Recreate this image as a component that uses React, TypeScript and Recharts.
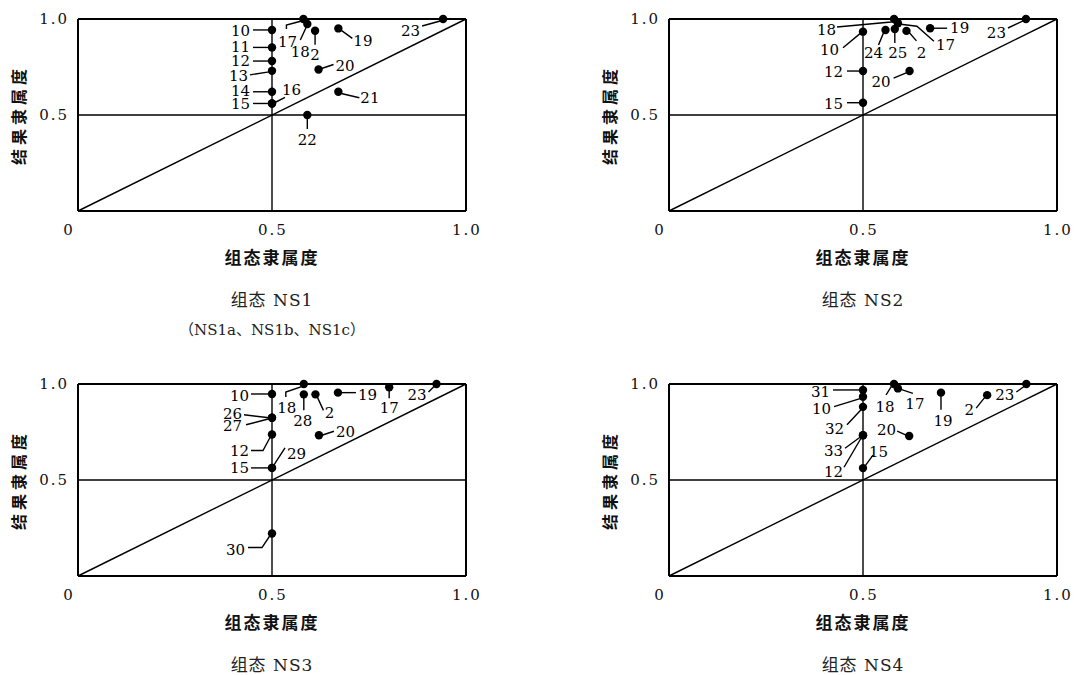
import React from 'react'
import { ScatterChart, Scatter, XAxis, YAxis, ReferenceLine } from 'recharts'

// 组态 NS1
const ns1Ids = ['10', '11', '12', '13', '14', '15', '16', '17', '18', '2', '19', '20', '21', '22', '23']
const ns1X = [0.5, 0.5, 0.5, 0.5, 0.5, 0.5, 0.5, 0.581, 0.591, 0.611, 0.671, 0.62, 0.671, 0.591, 0.941]
const ns1Y = [0.943, 0.852, 0.781, 0.73, 0.621, 0.56, 0.56, 1.0, 0.974, 0.939, 0.951, 0.737, 0.621, 0.5, 1.0]

// 组态 NS2
const ns2Ids = ['10', '12', '15', '18', '17', '24', '25', '2', '19', '20', '23']
const ns2X = [0.5, 0.5, 0.5, 0.58, 0.59, 0.558, 0.582, 0.612, 0.673, 0.62, 0.92]
const ns2Y = [0.934, 0.729, 0.564, 1.0, 0.978, 0.943, 0.948, 0.938, 0.952, 0.729, 1.0]

// 组态 NS3
const ns3Ids = ['10', '26', '27', '12', '15', '29', '30', '18', '28', '2', '19', '17', '20', '23']
const ns3X = [0.5, 0.5, 0.5, 0.5, 0.5, 0.5, 0.5, 0.582, 0.582, 0.612, 0.67, 0.802, 0.621, 0.924]
const ns3Y = [0.948, 0.824, 0.824, 0.737, 0.563, 0.563, 0.221, 1.0, 0.946, 0.946, 0.955, 0.983, 0.733, 1.0]

// 组态 NS4
const ns4Ids = ['31', '10', '32', '33', '12', '15', '18', '17', '19', '2', '20', '23']
const ns4X = [0.5, 0.5, 0.5, 0.5, 0.5, 0.5, 0.58, 0.59, 0.701, 0.82, 0.619, 0.921]
const ns4Y = [0.969, 0.934, 0.881, 0.733, 0.733, 0.562, 1.0, 0.977, 0.955, 0.942, 0.729, 1.0]

const xTicks = [0, 0.5, 1]
const yTicks = [0.5, 1]

type Tag = { path: number[][]; tx: number; ty: number; anchor: 'start' | 'middle' | 'end' }

// leader lines + label offsets (px, relative to the dot)
const left = (ty = 0): Tag => ({ path: [[-3, 0], [-19, 0]], tx: -22, ty, anchor: 'end' })

const ns1Tags: Record<string, Tag> = {
  '10': left(1),
  '11': left(0),
  '12': left(0),
  '13': { path: [[-3, 1], [-22, 4]], tx: -24, ty: 5, anchor: 'end' },
  '14': left(-1),
  '15': left(1),
  '16': { path: [[3, -1], [13, -6]], tx: 10, ty: -13, anchor: 'start' },
  '17': { path: [[-2, 2], [-17, 6], [-17, 10]], tx: -16, ty: 23, anchor: 'middle' },
  '18': { path: [[-1, 3], [-7, 16]], tx: -7, ty: 28, anchor: 'middle' },
  '2': { path: [[0, 3], [0, 14]], tx: 0, ty: 24, anchor: 'middle' },
  '19': { path: [[3, 2], [14, 10]], tx: 15, ty: 13, anchor: 'start' },
  '20': { path: [[3, -1], [15, -5]], tx: 17, ty: -3, anchor: 'start' },
  '21': { path: [[4, 2], [21, 6]], tx: 22, ty: 6, anchor: 'start' },
  '22': { path: [[0, 3], [0, 14]], tx: 0, ty: 25, anchor: 'middle' },
  '23': { path: [[-3, 2], [-21, 7]], tx: -23, ty: 12, anchor: 'end' },
}

const ns2Tags: Record<string, Tag> = {
  '18': { path: [[-3, 3], [-57, 8]], tx: -58, ty: 11, anchor: 'end' },
  '17': { path: [[3, 1], [19, 3], [36, 18]], tx: 38, ty: 22, anchor: 'start' },
  '24': { path: [[-2, 3], [-7, 15]], tx: -12, ty: 23, anchor: 'middle' },
  '25': { path: [[0, 3], [0, 14]], tx: 3, ty: 24, anchor: 'middle' },
  '2': { path: [[3, 2], [10, 10]], tx: 15, ty: 22, anchor: 'middle' },
  '19': { path: [[3, 0], [17, 0]], tx: 20, ty: 0, anchor: 'start' },
  '10': { path: [[-3, 2], [-20, 16]], tx: -24, ty: 18, anchor: 'end' },
  '12': { path: [[-3, 0], [-16, 0]], tx: -20, ty: 1, anchor: 'end' },
  '15': { path: [[-3, 0], [-16, 0]], tx: -20, ty: 1, anchor: 'end' },
  '20': { path: [[-4, 2], [-16, 7]], tx: -19, ty: 11, anchor: 'end' },
  '23': { path: [[-3, 2], [-18, 9]], tx: -20, ty: 14, anchor: 'end' },
}

const ns3Tags: Record<string, Tag> = {
  '18': { path: [[-3, 3], [-18, 8], [-18, 13]], tx: -17, ty: 24, anchor: 'middle' },
  '28': { path: [[0, 3], [0, 16]], tx: -1, ty: 27, anchor: 'middle' },
  '2': { path: [[2, 3], [8, 16]], tx: 14, ty: 19, anchor: 'middle' },
  '19': { path: [[4, 0], [18, 0]], tx: 20, ty: 2, anchor: 'start' },
  '17': { path: [[0, 3], [0, 11]], tx: 0, ty: 21, anchor: 'middle' },
  '23': { path: [[-3, 3], [-8, 8]], tx: -10, ty: 11, anchor: 'end' },
  '10': { path: [[-4, 0], [-21, 0]], tx: -23, ty: 2, anchor: 'end' },
  '26': { path: [[-3, 0], [-28, -3]], tx: -30, ty: -4, anchor: 'end' },
  '27': { path: [[-3, 1], [-26, 7]], tx: -30, ty: 8, anchor: 'end' },
  '12': { path: [[-2, 3], [-9, 16], [-21, 16]], tx: -23, ty: 17, anchor: 'end' },
  '15': { path: [[-4, 0], [-21, 0]], tx: -23, ty: 0, anchor: 'end' },
  '29': { path: [[2, -3], [13, -20]], tx: 15, ty: -14, anchor: 'start' },
  '20': { path: [[3, 0], [15, -4]], tx: 17, ty: -3, anchor: 'start' },
  '30': { path: [[-2, 2], [-10, 14], [-24, 14]], tx: -27, ty: 16, anchor: 'end' },
}

const ns4Tags: Record<string, Tag> = {
  '18': { path: [[-3, 3], [-8, 11]], tx: -9, ty: 23, anchor: 'middle' },
  '17': { path: [[3, 1], [15, 5]], tx: 17, ty: 16, anchor: 'middle' },
  '19': { path: [[0, 3], [0, 17]], tx: 2, ty: 28, anchor: 'middle' },
  '2': { path: [[-3, 3], [-11, 13]], tx: -18, ty: 15, anchor: 'middle' },
  '23': { path: [[-3, 3], [-10, 8]], tx: -12, ty: 11, anchor: 'end' },
  '31': { path: [[-3, 0], [-30, 0]], tx: -33, ty: 2, anchor: 'end' },
  '10': { path: [[-3, 2], [-29, 10]], tx: -32, ty: 12, anchor: 'end' },
  '32': { path: [[-2, 3], [-16, 18]], tx: -19, ty: 22, anchor: 'end' },
  '33': { path: [[-3, 2], [-18, 13]], tx: -20, ty: 16, anchor: 'end' },
  '12': { path: [[-2, 3], [-19, 32]], tx: -20, ty: 37, anchor: 'end' },
  '15': { path: [[2, -2], [10, -13]], tx: 6, ty: -16, anchor: 'start' },
  '20': { path: [[-3, -1], [-12, -5]], tx: -13, ty: -6, anchor: 'end' },
}

const toRows = (ids: string[], xs: number[], ys: number[]) =>
  ids.map((id, i) => ({ id, x: xs[i], y: ys[i] }))

const serif = "'DejaVu Serif', serif"
const mixed = "'DejaVu Serif', 'Noto Sans CJK SC', serif"
const hei = "'Noto Sans CJK SC', sans-serif"

function XTick(props: any) {
  const { x, payload } = props
  const v = payload.value
  const label = v === 0 ? '0' : v.toFixed(1)
  return (
    <text x={v === 0 ? x - 10 : x + 1} y={230} textAnchor="middle" dominantBaseline="central"
      fontFamily={serif} fontSize={15} letterSpacing={v === 0 ? 0 : 2} fill="#111">
      {label}
    </text>
  )
}

function YTick(props: any) {
  const { y, payload } = props
  return (
    <text x={69} y={y} textAnchor="end" dominantBaseline="central"
      fontFamily={serif} fontSize={15} letterSpacing={2} fill="#111">
      {payload.value.toFixed(1)}
    </text>
  )
}

function tagShape(tags: Record<string, Tag>) {
  return (props: any) => {
    const { cx, cy, payload } = props
    const t = tags[payload.id]
    return (
      <g>
        {t && (
          <polyline
            points={[[0, 0], ...t.path].map(([dx, dy]) => `${cx + dx},${cy + dy}`).join(' ')}
            fill="none" stroke="#000" strokeWidth={1.4}
          />
        )}
        <circle cx={cx} cy={cy} r={4.2} fill="#000" />
        {t && (
          <text x={cx + t.tx} y={cy + t.ty} textAnchor={t.anchor} dominantBaseline="central"
            fontFamily={serif} fontSize={15} fill="#000">
            {payload.id}
          </text>
        )}
      </g>
    )
  }
}

function Panel({ x, y, rows, tags, caption, sub }: any) {
  const frame = { stroke: '#000', strokeWidth: 2 }
  const inner = { stroke: '#000', strokeWidth: 1.4 }
  return (
    <div style={{ position: 'absolute', left: x, top: y, width: 540, height: 310 }}>
      <ScatterChart width={540} height={240} margin={{ top: 19, right: 74, bottom: 0, left: 0 }}>
        <XAxis type="number" dataKey="x" domain={[0, 1]} ticks={xTicks} height={29}
          tickLine={false} axisLine={frame} tick={<XTick />} interval={0} />
        <YAxis type="number" dataKey="y" domain={[0, 1]} ticks={yTicks} width={78}
          tickLine={false} axisLine={frame} tick={<YTick />} interval={0} />
        <ReferenceLine y={1} {...frame} />
        <ReferenceLine x={1} {...frame} />
        <ReferenceLine x={0.5} {...inner} />
        <ReferenceLine y={0.5} {...inner} />
        <ReferenceLine segment={[{ x: 0, y: 0 }, { x: 1, y: 1 }]} {...inner} />
        <Scatter data={rows} isAnimationActive={false} shape={tagShape(tags)} />
      </ScatterChart>
      <div style={{
        position: 'absolute', left: -42, top: 105, width: 120, height: 20, lineHeight: '20px',
        textAlign: 'center', transform: 'rotate(-90deg)', fontFamily: hei, fontWeight: 700,
        fontSize: 16, letterSpacing: 4, color: '#111',
      }}>结果隶属度</div>
      <div style={{
        position: 'absolute', left: 172, top: 246, width: 200, lineHeight: '22px', textAlign: 'center',
        fontFamily: hei, fontWeight: 700, fontSize: 17, letterSpacing: 2, color: '#111',
      }}>组态隶属度</div>
      <div style={{
        position: 'absolute', left: 172, top: 291, width: 200, lineHeight: '18px', textAlign: 'center',
        fontFamily: mixed, fontSize: 17, letterSpacing: 1, color: '#222',
      }}>{caption}</div>
      {sub && (
        <div style={{
          position: 'absolute', left: 122, top: 321, width: 300, lineHeight: '18px', textAlign: 'center',
          fontFamily: mixed, fontSize: 15, color: '#222',
        }}>{sub}</div>
      )}
    </div>
  )
}

export default function App() {
  return (
    <div style={{ position: 'absolute', left: 0, top: 0, width: 1075, height: 675, background: '#fff', overflow: 'hidden' }}>
      <Panel x={0} y={0} rows={toRows(ns1Ids, ns1X, ns1Y)} tags={ns1Tags} caption="组态 NS1" sub="（NS1a、NS1b、NS1c）" />
      <Panel x={591} y={0} rows={toRows(ns2Ids, ns2X, ns2Y)} tags={ns2Tags} caption="组态 NS2" />
      <Panel x={0} y={365} rows={toRows(ns3Ids, ns3X, ns3Y)} tags={ns3Tags} caption="组态 NS3" />
      <Panel x={591} y={365} rows={toRows(ns4Ids, ns4X, ns4Y)} tags={ns4Tags} caption="组态 NS4" />
    </div>
  )
}
